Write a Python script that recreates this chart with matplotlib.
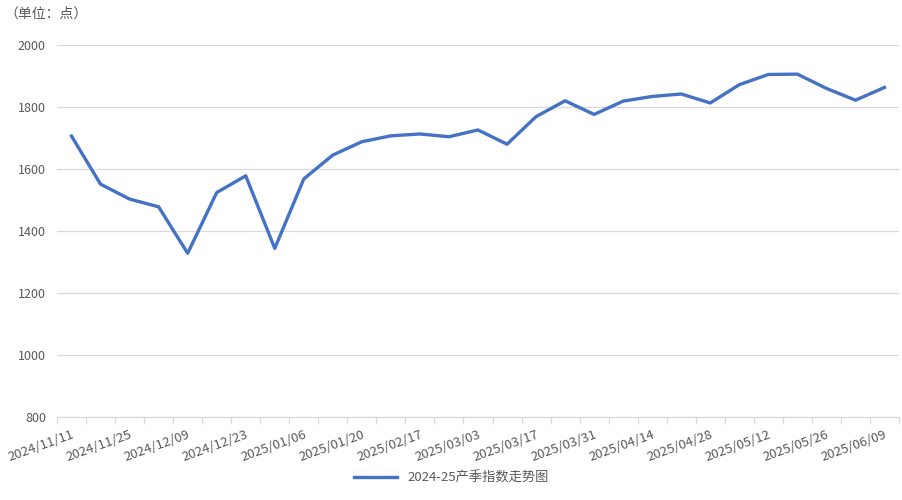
import matplotlib
matplotlib.use("Agg")
import matplotlib.pyplot as plt
import numpy as np

plt.rcParams['font.family'] = ['Noto Sans CJK SC', 'DejaVu Sans']

dates = ['2024/11/11', '2024/11/18', '2024/11/25', '2024/12/02', '2024/12/09',
         '2024/12/16', '2024/12/23', '2024/12/30', '2025/01/06', '2025/01/13',
         '2025/01/20', '2025/02/10', '2025/02/17', '2025/02/24', '2025/03/03',
         '2025/03/10', '2025/03/17', '2025/03/24', '2025/03/31', '2025/04/07',
         '2025/04/14', '2025/04/21', '2025/04/28', '2025/05/06', '2025/05/12',
         '2025/05/19', '2025/05/26', '2025/06/03', '2025/06/09']
index_values = [1706, 1551, 1503, 1478, 1328, 1524, 1578, 1344, 1568, 1645,
                1688, 1707, 1713, 1704, 1726, 1680, 1769, 1820, 1776, 1819,
                1834, 1842, 1813, 1872, 1905, 1906, 1860, 1822, 1863]
series_name = '2024-25产季指数走势图'

grey = '#595959'
fig = plt.figure(figsize=(9.03, 5.0), dpi=100)
ax = fig.add_axes([57 / 903, 1 - 417 / 500, 842 / 903, 372 / 500])

x = np.arange(len(dates))
ax.plot(x, index_values, color='#4472C4', lw=2.4, solid_joinstyle='round',
        label=series_name)

ax.set_xlim(-0.5, len(dates) - 0.5)
ax.set_ylim(800, 2000)
ax.set_yticks(np.arange(800, 2001, 200))
ax.grid(axis='y', color='#d9d9d9', lw=0.9)
ax.set_axisbelow(True)

for s in ['top', 'right', 'left']:
    ax.spines[s].set_visible(False)
ax.spines['bottom'].set_color('#d9d9d9')
ax.spines['bottom'].set_linewidth(0.9)

# tick marks at category boundaries, labels every other category
ax.set_xticks(np.arange(-0.5, len(dates), 1.0), minor=True)
ax.tick_params(axis='x', which='minor', length=5, color='#d9d9d9', width=0.9)
ax.set_xticks(x[::2])
ax.set_xticklabels(dates[::2], rotation=20, ha='right', va='top',
                   rotation_mode='anchor', fontsize=9.5, color=grey)
ax.tick_params(axis='x', which='major', length=0, pad=8)
ax.tick_params(axis='y', length=0, labelsize=9, labelcolor=grey, pad=8)

fig.text(4 / 903, 1 - 14 / 500, '（单位：点）', fontsize=10, color=grey,
         va='center', ha='left')

fig.legend(loc='center', bbox_to_anchor=(0.5, 1 - 478 / 500), frameon=False,
           fontsize=9.5, labelcolor=grey, handlelength=3.2)

fig.savefig('out.png', dpi=100)
